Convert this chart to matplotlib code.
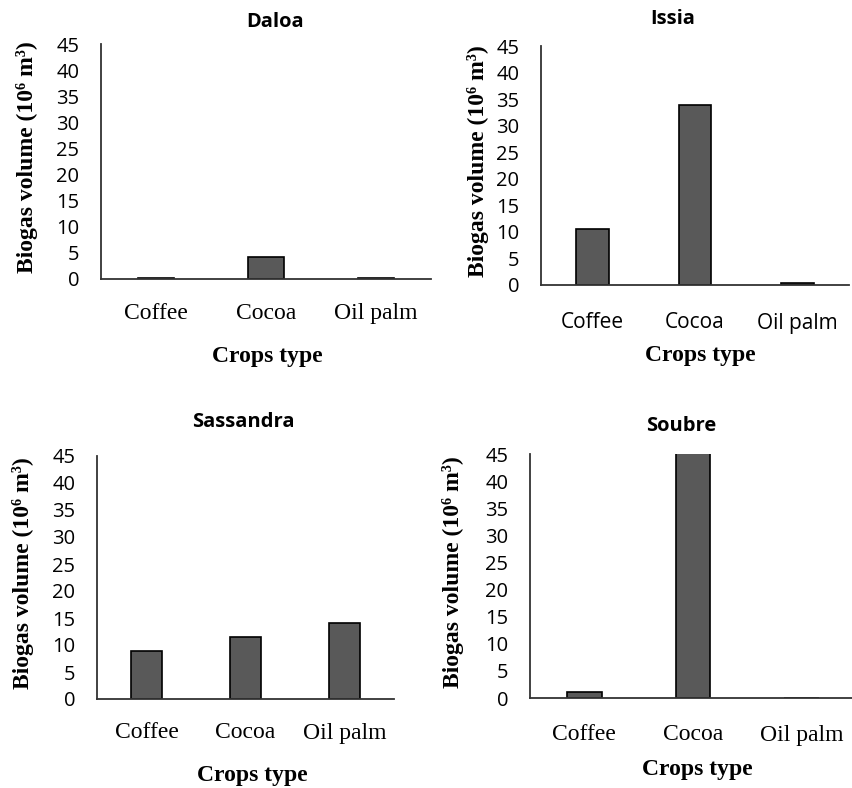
import matplotlib
matplotlib.use('Agg')
from matplotlib import pyplot as plt

crops = ['Coffee', 'Cocoa', 'Oil palm']
daloa = [0.15, 4.15, 0.15]
issia = [10.6, 33.8, 0.4]
sassandra = [8.8, 11.4, 14.05]
soubre = [1.05, 46.0, 0.0]
yticks = [0, 5, 10, 15, 20, 25, 30, 35, 40, 45]

W, H = 853, 788
fig = plt.figure(figsize=(W / 100, H / 100), dpi=100)

sans = 'Open Sans'
serif = 'Liberation Serif'


def px_axes(left, right, top, bottom):
    return fig.add_axes([left / W, 1 - bottom / H, (right - left) / W, (bottom - top) / H])


# (name, values, axes box in px, title pos, ylabel x, cat label font, cat y, xlabel pos)
panels = [
    ('Daloa', daloa, (101, 431, 44, 279), (275, 22), 27, serif, 314, (267, 357)),
    ('Issia', issia, (541, 849, 46, 285), (673, 19), 478, sans, 323, (700, 355)),
    ('Sassandra', sassandra, (97, 394, 456, 699), (243, 422), 23, serif, 733, (252, 775)),
    ('Soubre', soubre, (530, 856, 454, 698), (681, 426), 453, serif, 735, (697, 770)),
]

for name, vals, box, tpos, ylx, catfont, caty, xlpos in panels:
    left, right, top, bottom = box
    ax = px_axes(left, right, top, bottom)
    x = range(len(crops))
    ax.bar(x, vals, width=0.32, color='#595959', edgecolor='black', linewidth=1.2)
    ax.set_xlim(-0.5, 2.5)
    ax.set_ylim(0, 45)
    ax.set_yticks(yticks)
    ax.set_yticklabels([str(t) for t in yticks], fontfamily=sans, fontsize=14.5)
    ax.set_xticks([])
    for s in ['top', 'right']:
        ax.spines[s].set_visible(False)
    for s in ['left', 'bottom']:
        ax.spines[s].set_color('#333333')
        ax.spines[s].set_linewidth(1.3)
    ax.tick_params(axis='y', length=0, pad=15.5)
    ax.patch.set_alpha(0)
    # category labels
    scale = (right - left) / 3
    for i, c in enumerate(crops):
        cx = left + scale * (i + 0.5)
        fig.text(cx / W, 1 - caty / H, c, ha='center', va='center',
                 fontfamily=catfont, fontsize=17 if catfont == serif else 15)
    fig.text(xlpos[0] / W, 1 - xlpos[1] / H,
             'Crops type', ha='center', va='center', fontfamily=serif,
             fontweight='bold', fontsize=17)
    fig.text(tpos[0] / W, 1 - tpos[1] / H, name, ha='center', va='center',
             fontfamily=sans, fontweight='bold', fontsize=14.5)
    fig.text(ylx / W, 1 - ((top + bottom) / 2 - 4) / H,
             'Biogas volume (10\u2076 m\u00b3)',
             rotation=90, ha='center', va='center', fontfamily=serif,
             fontweight='bold', fontsize=17)

fig.savefig('out.png', dpi=100)
